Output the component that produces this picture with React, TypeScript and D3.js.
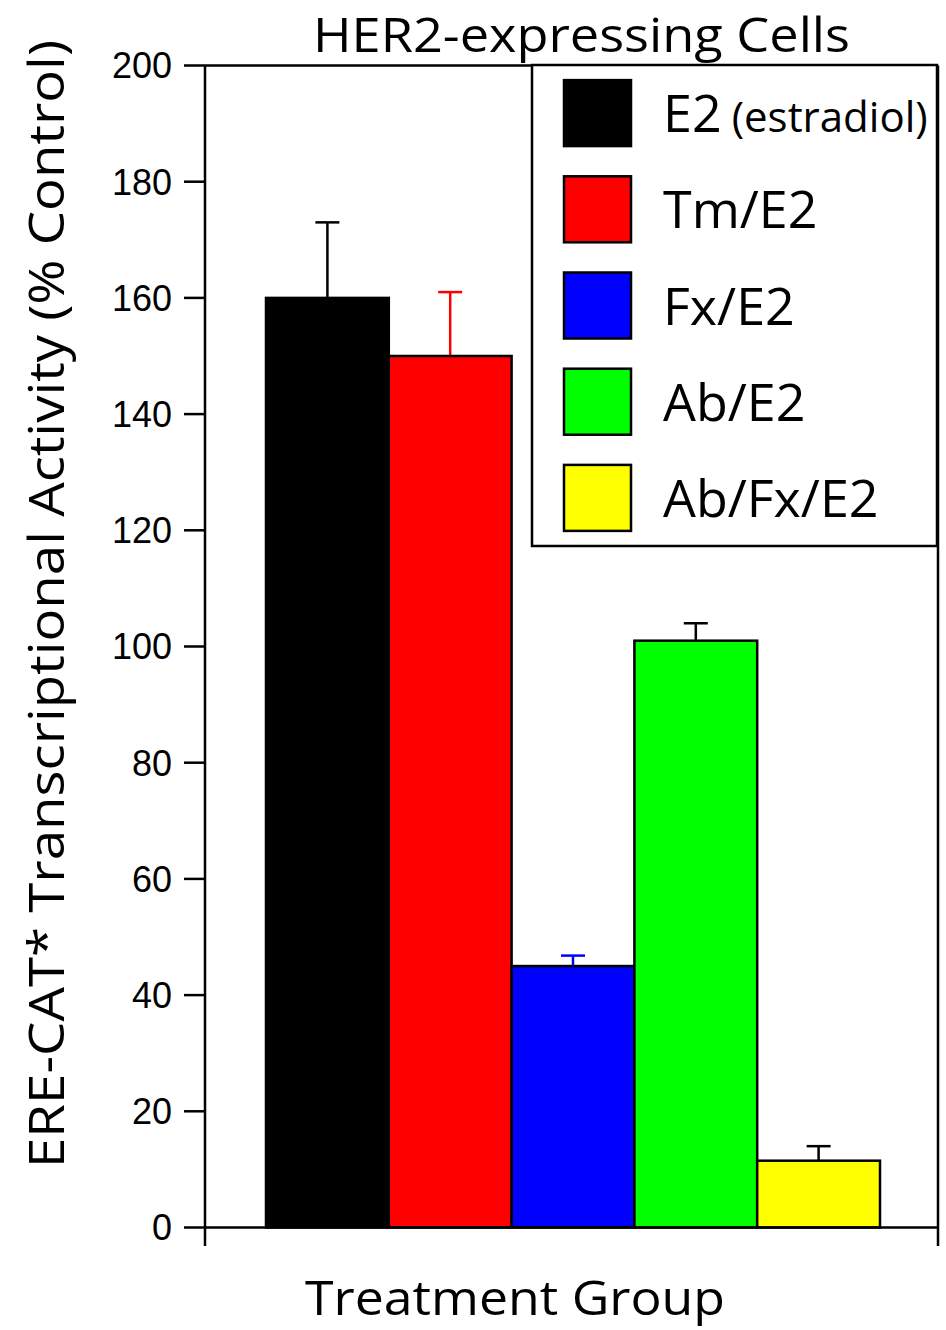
import React from "react";
import * as d3 from "d3";

const categories = ["E2", "Tm/E2", "Fx/E2", "Ab/E2", "Ab/Fx/E2"];
const values = [160, 150, 45, 101, 11.5];
const errors = [13, 11, 1.8, 3, 2.5];
const barColors = ["#000000", "#ff0000", "#0000ff", "#00ff00", "#ffff00"];
const errColors = ["#000000", "#ff0000", "#0000ff", "#000000", "#000000"];
const yTicks = [0, 20, 40, 60, 80, 100, 120, 140, 160, 180, 200];
const legendLabels = ["E2", "Tm/E2", "Fx/E2", "Ab/E2", "Ab/Fx/E2"];

const humanist = "'Open Sans', 'Noto Sans', sans-serif";

export default function App() {
  const W = 946, H = 1330;
  const left = 205, right = 938, top = 65.5, bottom = 1227.5;
  const y = d3.scaleLinear().domain([0, 200]).range([bottom, top]);
  const x = d3.scaleBand().domain(categories).range([266, 880]).padding(0);
  const lx = d3.scaleBand().domain(legendLabels).range([65, 546]).padding(0);
  return (
    <svg width={W} height={H} style={{ display: "block", position: "absolute", left: 0, top: 0 }}>
      <rect width={W} height={H} fill="#fff" />
      {categories.map((c, i) => (
        <g key={c}>
          <line x1={x(c)! + x.bandwidth() / 2} x2={x(c)! + x.bandwidth() / 2} y1={y(values[i])} y2={y(values[i] + errors[i])} stroke={errColors[i]} strokeWidth={2.5} />
          <line x1={x(c)! + x.bandwidth() / 2 - 12} x2={x(c)! + x.bandwidth() / 2 + 12} y1={y(values[i] + errors[i])} y2={y(values[i] + errors[i])} stroke={errColors[i]} strokeWidth={2.5} />
          <rect x={x(c)!} y={y(values[i])} width={x.bandwidth()} height={bottom - y(values[i])} fill={barColors[i]} stroke="#000" strokeWidth={2.5} />
        </g>
      ))}
      <line x1={left} x2={right} y1={top} y2={top} stroke="#000" strokeWidth={2.5} />
      <line x1={left} x2={right} y1={bottom} y2={bottom} stroke="#000" strokeWidth={2.5} />
      <line x1={left} x2={left} y1={top} y2={1246} stroke="#000" strokeWidth={2.5} />
      <line x1={right} x2={right} y1={top} y2={1246} stroke="#000" strokeWidth={2.5} />
      {yTicks.map((t) => (
        <g key={t}>
          <line x1={184} x2={left} y1={y(t)} y2={y(t)} stroke="#000" strokeWidth={2.5} />
          <text x={172} y={y(t)} dy="0.36em" textAnchor="end" fontFamily="'Liberation Sans', Arial, sans-serif" fontSize={36} fill="#000">{t}</text>
        </g>
      ))}
      <rect x={532} y={65} width={405} height={481} fill="#fff" stroke="#000" strokeWidth={2.5} />
      {legendLabels.map((l, i) => {
        const cy = lx(l)! + lx.bandwidth() / 2;
        return (
          <g key={l}>
            <rect x={564} y={cy - 33} width={67} height={66} fill={barColors[i]} stroke="#000" strokeWidth={2.5} />
            <text x={663} y={cy + 19} fontFamily={humanist} fontSize={52} fill="#000">
              {l}
              {i === 0 ? <tspan fontSize={42} dx={10}>(estradiol)</tspan> : null}
            </text>
          </g>
        );
      })}
      <text x={313} y={52} fontFamily={humanist} fontSize={48} textLength={537} lengthAdjust="spacingAndGlyphs" fill="#000">HER2-expressing Cells</text>
      <text x={305} y={1315} fontFamily={humanist} fontSize={48} textLength={420} lengthAdjust="spacingAndGlyphs" fill="#000">Treatment Group</text>
      <text transform="translate(64,1168) rotate(-90)" x={0} y={0} fontFamily={humanist} fontSize={49} textLength={1128} lengthAdjust="spacingAndGlyphs" fill="#000">ERE-CAT* Transcriptional Activity (% Control)</text>
    </svg>
  );
}
